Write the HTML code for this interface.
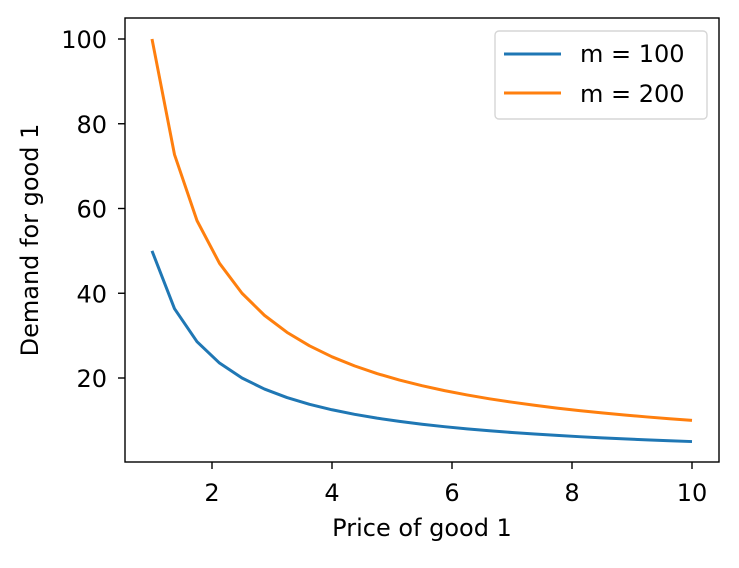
<!DOCTYPE html>
<html><head><meta charset="utf-8"><style>
body{margin:0;background:#fff;}
svg text{font-family:"DejaVu Sans","Liberation Sans",sans-serif;fill:#000;}
</style></head><body>
<svg width="739" height="563" viewBox="0 0 739 563">
<rect x="0" y="0" width="739" height="563" fill="#fff"/>
<g id="plot"></g>
<rect x="125" y="18" width="594" height="444" fill="none" stroke="#000" stroke-width="1.4"/>
<g id="xt"></g><g id="yt"></g>
<text x="422" y="536" font-size="24" text-anchor="middle">Price of good 1</text>
<text x="0" y="0" font-size="24" text-anchor="middle" transform="translate(38,240) rotate(-90)">Demand for good 1</text>
<g>
<rect x="495" y="31" width="212" height="88" rx="4" fill="#fff" stroke="#d6d6d6" stroke-width="1.4"/>
<line x1="504" y1="54" x2="561" y2="54" stroke="#1f77b4" stroke-width="3"/>
<text x="580" y="62" font-size="24">m = 100</text>
<line x1="504" y1="93" x2="561" y2="93" stroke="#ff7f0e" stroke-width="3"/>
<text x="580" y="102" font-size="24">m = 200</text>
</g>
</svg>
<script>
const prices=[1,1.375,1.75,2.125,2.5,2.875,3.25,3.625,4,4.375,4.75,5.125,5.5,5.875,6.25,6.625,7,7.375,7.75,8.125,8.5,8.875,9.25,9.625,10];
const demandM100=[50,36.36,28.57,23.53,20,17.39,15.38,13.79,12.5,11.43,10.53,9.76,9.09,8.51,8,7.55,7.14,6.78,6.45,6.15,5.88,5.63,5.41,5.19,5];
const demandM200=[100,72.73,57.14,47.06,40,34.78,30.77,27.59,25,22.86,21.05,19.51,18.18,17.02,16,15.09,14.29,13.56,12.90,12.31,11.76,11.27,10.81,10.39,10];
const xTicks=[2,4,6,8,10];
const yTicks=[20,40,60,80,100];
const NS="http://www.w3.org/2000/svg";
function xs(v){return 152+(v-1)*60;}
function ys(v){return 462.75-v*4.2375;}
const plot=document.getElementById('plot');
function line(data,color,name){
  const p=document.createElementNS(NS,'polyline');
  p.setAttribute('points',data.map((d,i)=>xs(prices[i])+','+ys(d)).join(' '));
  p.setAttribute('fill','none');p.setAttribute('stroke',color);p.setAttribute('stroke-width','3');
  p.setAttribute('stroke-linejoin','round');
  
  
  plot.appendChild(p);
}
line(demandM100,'#1f77b4','series-m100');
line(demandM200,'#ff7f0e','series-m200');
const xt=document.getElementById('xt');
xTicks.forEach(t=>{
  const l=document.createElementNS(NS,'line');
  l.setAttribute('x1',xs(t));l.setAttribute('x2',xs(t));l.setAttribute('y1',462);l.setAttribute('y2',469);l.setAttribute('stroke','#000');l.setAttribute('stroke-width','1.4');
  
  
  xt.appendChild(l);
  const tx=document.createElementNS(NS,'text');
  tx.setAttribute('x',xs(t));tx.setAttribute('y',501);tx.setAttribute('font-size','24');tx.setAttribute('text-anchor','middle');
  tx.textContent=t;
  
  
  xt.appendChild(tx);
});
const yt=document.getElementById('yt');
yTicks.forEach(t=>{
  const l=document.createElementNS(NS,'line');
  l.setAttribute('x1',118);l.setAttribute('x2',125);l.setAttribute('y1',ys(t));l.setAttribute('y2',ys(t));l.setAttribute('stroke','#000');l.setAttribute('stroke-width','1.4');
  
  
  yt.appendChild(l);
  const tx=document.createElementNS(NS,'text');
  tx.setAttribute('x',107);tx.setAttribute('y',ys(t)+9);tx.setAttribute('font-size','24');tx.setAttribute('text-anchor','end');
  tx.textContent=t;
  
  
  yt.appendChild(tx);
});
</script>
</body></html>
